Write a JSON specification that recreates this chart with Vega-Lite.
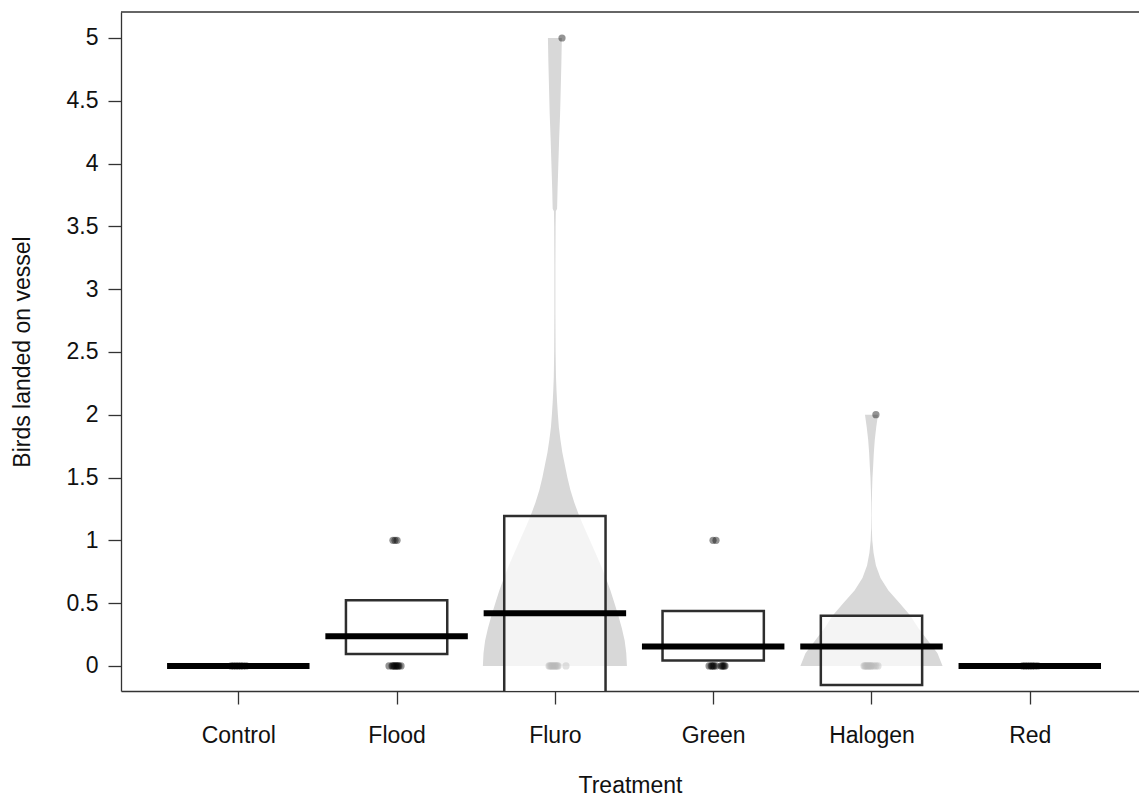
{
  "$schema": "https://vega.github.io/schema/vega-lite/v6.json",
  "width": 1018,
  "height": 679,
  "autosize": {"type": "none"},
  "padding": {"left": 121, "top": 12, "right": 0, "bottom": 110},
  "background": "white",
  "config": {
    "view": {"stroke": null},
    "font": "Liberation Sans",
    "axis": {"grid": false, "domainColor": "#333333", "tickColor": "#333333", "labelColor": "#111111", "titleColor": "#111111", "labelFont": "Liberation Sans", "titleFont": "Liberation Sans", "labelFontSize": 23, "titleFontSize": 23, "titleFontWeight": "normal", "tickSize": 13, "domainWidth": 1.3, "tickWidth": 1.3}
  },
  "datasets": {
    "beans": [
      {"treatment": "Fluro", "y": 0.0, "xl": 2.545, "xr": 3.455},
      {"treatment": "Fluro", "y": 0.1, "xl": 2.549, "xr": 3.451},
      {"treatment": "Fluro", "y": 0.2, "xl": 2.559, "xr": 3.441},
      {"treatment": "Fluro", "y": 0.3, "xl": 2.577, "xr": 3.423},
      {"treatment": "Fluro", "y": 0.4, "xl": 2.599, "xr": 3.401},
      {"treatment": "Fluro", "y": 0.5, "xl": 2.624, "xr": 3.376},
      {"treatment": "Fluro", "y": 0.6, "xl": 2.649, "xr": 3.351},
      {"treatment": "Fluro", "y": 0.7, "xl": 2.678, "xr": 3.322},
      {"treatment": "Fluro", "y": 0.8, "xl": 2.709, "xr": 3.291},
      {"treatment": "Fluro", "y": 0.9, "xl": 2.744, "xr": 3.256},
      {"treatment": "Fluro", "y": 1.0, "xl": 2.779, "xr": 3.221},
      {"treatment": "Fluro", "y": 1.1, "xl": 2.814, "xr": 3.186},
      {"treatment": "Fluro", "y": 1.2, "xl": 2.848, "xr": 3.152},
      {"treatment": "Fluro", "y": 1.3, "xl": 2.877, "xr": 3.123},
      {"treatment": "Fluro", "y": 1.4, "xl": 2.902, "xr": 3.098},
      {"treatment": "Fluro", "y": 1.5, "xl": 2.921, "xr": 3.079},
      {"treatment": "Fluro", "y": 1.6, "xl": 2.937, "xr": 3.063},
      {"treatment": "Fluro", "y": 1.7, "xl": 2.953, "xr": 3.047},
      {"treatment": "Fluro", "y": 1.8, "xl": 2.965, "xr": 3.035},
      {"treatment": "Fluro", "y": 1.9, "xl": 2.975, "xr": 3.025},
      {"treatment": "Fluro", "y": 2.0, "xl": 2.981, "xr": 3.019},
      {"treatment": "Fluro", "y": 2.1, "xl": 2.986, "xr": 3.014},
      {"treatment": "Fluro", "y": 2.2, "xl": 2.990, "xr": 3.010},
      {"treatment": "Fluro", "y": 2.3, "xl": 2.993, "xr": 3.007},
      {"treatment": "Fluro", "y": 2.5, "xl": 2.9955, "xr": 3.0045},
      {"treatment": "Fluro", "y": 2.8, "xl": 2.9968, "xr": 3.0032},
      {"treatment": "Fluro", "y": 3.2, "xl": 2.9968, "xr": 3.0032},
      {"treatment": "Fluro", "y": 3.5, "xl": 2.9955, "xr": 3.0045},
      {"treatment": "Fluro", "y": 3.62, "xl": 2.994, "xr": 3.006},
      {"treatment": "Fluro", "y": 3.64, "xl": 2.986, "xr": 3.014},
      {"treatment": "Fluro", "y": 3.8, "xl": 2.983, "xr": 3.017},
      {"treatment": "Fluro", "y": 4.0, "xl": 2.978, "xr": 3.022},
      {"treatment": "Fluro", "y": 4.2, "xl": 2.973, "xr": 3.027},
      {"treatment": "Fluro", "y": 4.4, "xl": 2.967, "xr": 3.033},
      {"treatment": "Fluro", "y": 4.6, "xl": 2.963, "xr": 3.037},
      {"treatment": "Fluro", "y": 4.8, "xl": 2.959, "xr": 3.041},
      {"treatment": "Fluro", "y": 5.0, "xl": 2.956, "xr": 3.044},
      {"treatment": "Halogen", "y": 0.0, "xl": 4.551, "xr": 5.449},
      {"treatment": "Halogen", "y": 0.1, "xl": 4.583, "xr": 5.417},
      {"treatment": "Halogen", "y": 0.2, "xl": 4.643, "xr": 5.357},
      {"treatment": "Halogen", "y": 0.3, "xl": 4.703, "xr": 5.297},
      {"treatment": "Halogen", "y": 0.4, "xl": 4.754, "xr": 5.246},
      {"treatment": "Halogen", "y": 0.5, "xl": 4.823, "xr": 5.177},
      {"treatment": "Halogen", "y": 0.6, "xl": 4.893, "xr": 5.107},
      {"treatment": "Halogen", "y": 0.7, "xl": 4.943, "xr": 5.057},
      {"treatment": "Halogen", "y": 0.8, "xl": 4.972, "xr": 5.028},
      {"treatment": "Halogen", "y": 0.9, "xl": 4.987, "xr": 5.013},
      {"treatment": "Halogen", "y": 1.0, "xl": 4.995, "xr": 5.005},
      {"treatment": "Halogen", "y": 1.1, "xl": 4.998, "xr": 5.002},
      {"treatment": "Halogen", "y": 1.2, "xl": 4.9987, "xr": 5.0013},
      {"treatment": "Halogen", "y": 1.3, "xl": 4.998, "xr": 5.002},
      {"treatment": "Halogen", "y": 1.4, "xl": 4.9962, "xr": 5.0038},
      {"treatment": "Halogen", "y": 1.5, "xl": 4.9937, "xr": 5.0063},
      {"treatment": "Halogen", "y": 1.6, "xl": 4.989, "xr": 5.011},
      {"treatment": "Halogen", "y": 1.7, "xl": 4.985, "xr": 5.015},
      {"treatment": "Halogen", "y": 1.8, "xl": 4.979, "xr": 5.021},
      {"treatment": "Halogen", "y": 1.9, "xl": 4.970, "xr": 5.030},
      {"treatment": "Halogen", "y": 2.0, "xl": 4.959, "xr": 5.041}
    ],
    "points": [
      {"treatment": "Control", "pos": 0.955, "value": 0},
      {"treatment": "Control", "pos": 0.97, "value": 0},
      {"treatment": "Control", "pos": 0.985, "value": 0},
      {"treatment": "Control", "pos": 1.0, "value": 0},
      {"treatment": "Control", "pos": 1.015, "value": 0},
      {"treatment": "Control", "pos": 1.03, "value": 0},
      {"treatment": "Control", "pos": 1.05, "value": 0},
      {"treatment": "Flood", "pos": 1.977, "value": 1},
      {"treatment": "Flood", "pos": 1.990, "value": 1},
      {"treatment": "Flood", "pos": 2.003, "value": 1},
      {"treatment": "Flood", "pos": 1.952, "value": 0},
      {"treatment": "Flood", "pos": 1.971, "value": 0},
      {"treatment": "Flood", "pos": 1.977, "value": 0},
      {"treatment": "Flood", "pos": 1.984, "value": 0},
      {"treatment": "Flood", "pos": 1.990, "value": 0},
      {"treatment": "Flood", "pos": 1.996, "value": 0},
      {"treatment": "Flood", "pos": 2.003, "value": 0},
      {"treatment": "Flood", "pos": 2.009, "value": 0},
      {"treatment": "Flood", "pos": 2.015, "value": 0},
      {"treatment": "Flood", "pos": 2.028, "value": 0},
      {"treatment": "Fluro", "pos": 3.045, "value": 5},
      {"treatment": "Fluro", "pos": 2.963, "value": 0},
      {"treatment": "Fluro", "pos": 2.969, "value": 0},
      {"treatment": "Fluro", "pos": 2.976, "value": 0},
      {"treatment": "Fluro", "pos": 2.982, "value": 0},
      {"treatment": "Fluro", "pos": 2.988, "value": 0},
      {"treatment": "Fluro", "pos": 2.995, "value": 0},
      {"treatment": "Fluro", "pos": 3.001, "value": 0},
      {"treatment": "Fluro", "pos": 3.007, "value": 0},
      {"treatment": "Fluro", "pos": 3.014, "value": 0},
      {"treatment": "Fluro", "pos": 3.020, "value": 0},
      {"treatment": "Fluro", "pos": 3.070, "value": 0},
      {"treatment": "Green", "pos": 3.999, "value": 1},
      {"treatment": "Green", "pos": 4.018, "value": 1},
      {"treatment": "Green", "pos": 3.974, "value": 0},
      {"treatment": "Green", "pos": 3.987, "value": 0},
      {"treatment": "Green", "pos": 3.993, "value": 0},
      {"treatment": "Green", "pos": 3.999, "value": 0},
      {"treatment": "Green", "pos": 4.006, "value": 0},
      {"treatment": "Green", "pos": 4.018, "value": 0},
      {"treatment": "Green", "pos": 4.050, "value": 0},
      {"treatment": "Green", "pos": 4.056, "value": 0},
      {"treatment": "Green", "pos": 4.062, "value": 0},
      {"treatment": "Green", "pos": 4.069, "value": 0},
      {"treatment": "Green", "pos": 4.075, "value": 0},
      {"treatment": "Halogen", "pos": 5.028, "value": 2},
      {"treatment": "Halogen", "pos": 4.953, "value": 0},
      {"treatment": "Halogen", "pos": 4.959, "value": 0},
      {"treatment": "Halogen", "pos": 4.965, "value": 0},
      {"treatment": "Halogen", "pos": 4.972, "value": 0},
      {"treatment": "Halogen", "pos": 4.978, "value": 0},
      {"treatment": "Halogen", "pos": 4.984, "value": 0},
      {"treatment": "Halogen", "pos": 4.991, "value": 0},
      {"treatment": "Halogen", "pos": 4.997, "value": 0},
      {"treatment": "Halogen", "pos": 5.003, "value": 0},
      {"treatment": "Halogen", "pos": 5.016, "value": 0},
      {"treatment": "Halogen", "pos": 5.028, "value": 0},
      {"treatment": "Halogen", "pos": 5.041, "value": 0},
      {"treatment": "Red", "pos": 5.955, "value": 0},
      {"treatment": "Red", "pos": 5.97, "value": 0},
      {"treatment": "Red", "pos": 5.985, "value": 0},
      {"treatment": "Red", "pos": 6.0, "value": 0},
      {"treatment": "Red", "pos": 6.015, "value": 0},
      {"treatment": "Red", "pos": 6.03, "value": 0},
      {"treatment": "Red", "pos": 6.05, "value": 0}
    ],
    "boxes": [
      {"treatment": "Flood", "xl": 1.68, "xr": 2.32, "lo": 0.094, "hi": 0.522},
      {"treatment": "Fluro", "xl": 2.68, "xr": 3.32, "lo": -0.35, "hi": 1.194},
      {"treatment": "Green", "xl": 3.68, "xr": 4.32, "lo": 0.042, "hi": 0.438},
      {"treatment": "Halogen", "xl": 4.68, "xr": 5.32, "lo": -0.152, "hi": 0.4}
    ],
    "means": [
      {"treatment": "Control", "xl": 0.55, "xr": 1.45, "mean": 0},
      {"treatment": "Flood", "xl": 1.55, "xr": 2.45, "mean": 0.235},
      {"treatment": "Fluro", "xl": 2.55, "xr": 3.45, "mean": 0.42},
      {"treatment": "Green", "xl": 3.55, "xr": 4.45, "mean": 0.154},
      {"treatment": "Halogen", "xl": 4.55, "xr": 5.45, "mean": 0.154},
      {"treatment": "Red", "xl": 5.55, "xr": 6.45, "mean": 0}
    ],
    "frame": [{"top": 5.207}]
  },
  "layer": [
    {
      "data": {"name": "beans"},
      "mark": {"type": "area", "orient": "horizontal", "color": "#d8d8d8", "opacity": 1, "clip": true},
      "encoding": {
        "y": {"field": "y", "type": "quantitative", "scale": {"domain": [-0.2, 5.207], "nice": false, "zero": false},
          "axis": {"title": "Birds landed on vessel", "values": [0, 0.5, 1, 1.5, 2, 2.5, 3, 3.5, 4, 4.5, 5], "labelExpr": "format(datum.value, '~g')", "labelPadding": 10, "titlePadding": 32}},
        "x": {"field": "xl", "type": "quantitative", "scale": {"domain": [0.259, 6.69], "nice": false, "zero": false},
          "axis": {"title": "Treatment", "values": [1, 2, 3, 4, 5, 6], "labelExpr": "['', 'Control', 'Flood', 'Fluro', 'Green', 'Halogen', 'Red'][datum.value]", "labelPadding": 20, "titlePadding": 27}},
        "x2": {"field": "xr"},
        "detail": {"field": "treatment"}
      }
    },
    {
      "data": {"name": "points"},
      "mark": {"type": "circle", "size": 52, "color": "#000000", "opacity": 0.42, "clip": true},
      "encoding": {
        "x": {"field": "pos", "type": "quantitative", "scale": {"domain": [0.259, 6.69], "nice": false, "zero": false},
          "axis": {"title": "Treatment", "values": [1, 2, 3, 4, 5, 6], "labelExpr": "['', 'Control', 'Flood', 'Fluro', 'Green', 'Halogen', 'Red'][datum.value]", "labelPadding": 20, "titlePadding": 27}},
        "y": {"field": "value", "type": "quantitative", "scale": {"domain": [-0.2, 5.207], "nice": false, "zero": false},
          "axis": {"title": "Birds landed on vessel", "values": [0, 0.5, 1, 1.5, 2, 2.5, 3, 3.5, 4, 4.5, 5], "labelExpr": "format(datum.value, '~g')", "labelPadding": 10, "titlePadding": 32}}
      }
    },
    {
      "data": {"name": "boxes"},
      "mark": {"type": "rect", "fill": "#ffffff", "fillOpacity": 0.72, "stroke": "#2e2e2e", "strokeWidth": 2.5, "clip": true},
      "encoding": {
        "x": {"field": "xl", "type": "quantitative", "scale": {"domain": [0.259, 6.69], "nice": false, "zero": false},
          "axis": {"title": "Treatment", "values": [1, 2, 3, 4, 5, 6], "labelExpr": "['', 'Control', 'Flood', 'Fluro', 'Green', 'Halogen', 'Red'][datum.value]", "labelPadding": 20, "titlePadding": 27}},
        "x2": {"field": "xr"},
        "y": {"field": "lo", "type": "quantitative", "scale": {"domain": [-0.2, 5.207], "nice": false, "zero": false},
          "axis": {"title": "Birds landed on vessel", "values": [0, 0.5, 1, 1.5, 2, 2.5, 3, 3.5, 4, 4.5, 5], "labelExpr": "format(datum.value, '~g')", "labelPadding": 10, "titlePadding": 32}},
        "y2": {"field": "hi"}
      }
    },
    {
      "data": {"name": "means"},
      "mark": {"type": "rule", "color": "#000000", "strokeWidth": 6, "strokeCap": "butt", "clip": true},
      "encoding": {
        "x": {"field": "xl", "type": "quantitative", "scale": {"domain": [0.259, 6.69], "nice": false, "zero": false},
          "axis": {"title": "Treatment", "values": [1, 2, 3, 4, 5, 6], "labelExpr": "['', 'Control', 'Flood', 'Fluro', 'Green', 'Halogen', 'Red'][datum.value]", "labelPadding": 20, "titlePadding": 27}},
        "x2": {"field": "xr"},
        "y": {"field": "mean", "type": "quantitative", "scale": {"domain": [-0.2, 5.207], "nice": false, "zero": false},
          "axis": {"title": "Birds landed on vessel", "values": [0, 0.5, 1, 1.5, 2, 2.5, 3, 3.5, 4, 4.5, 5], "labelExpr": "format(datum.value, '~g')", "labelPadding": 10, "titlePadding": 32}}
      }
    },
    {
      "data": {"name": "frame"},
      "mark": {"type": "rule", "color": "#333333", "strokeWidth": 1.3},
      "encoding": {
        "y": {"field": "top", "type": "quantitative", "scale": {"domain": [-0.2, 5.207], "nice": false, "zero": false},
          "axis": {"title": "Birds landed on vessel", "values": [0, 0.5, 1, 1.5, 2, 2.5, 3, 3.5, 4, 4.5, 5], "labelExpr": "format(datum.value, '~g')", "labelPadding": 10, "titlePadding": 32}}
      }
    }
  ]
}
